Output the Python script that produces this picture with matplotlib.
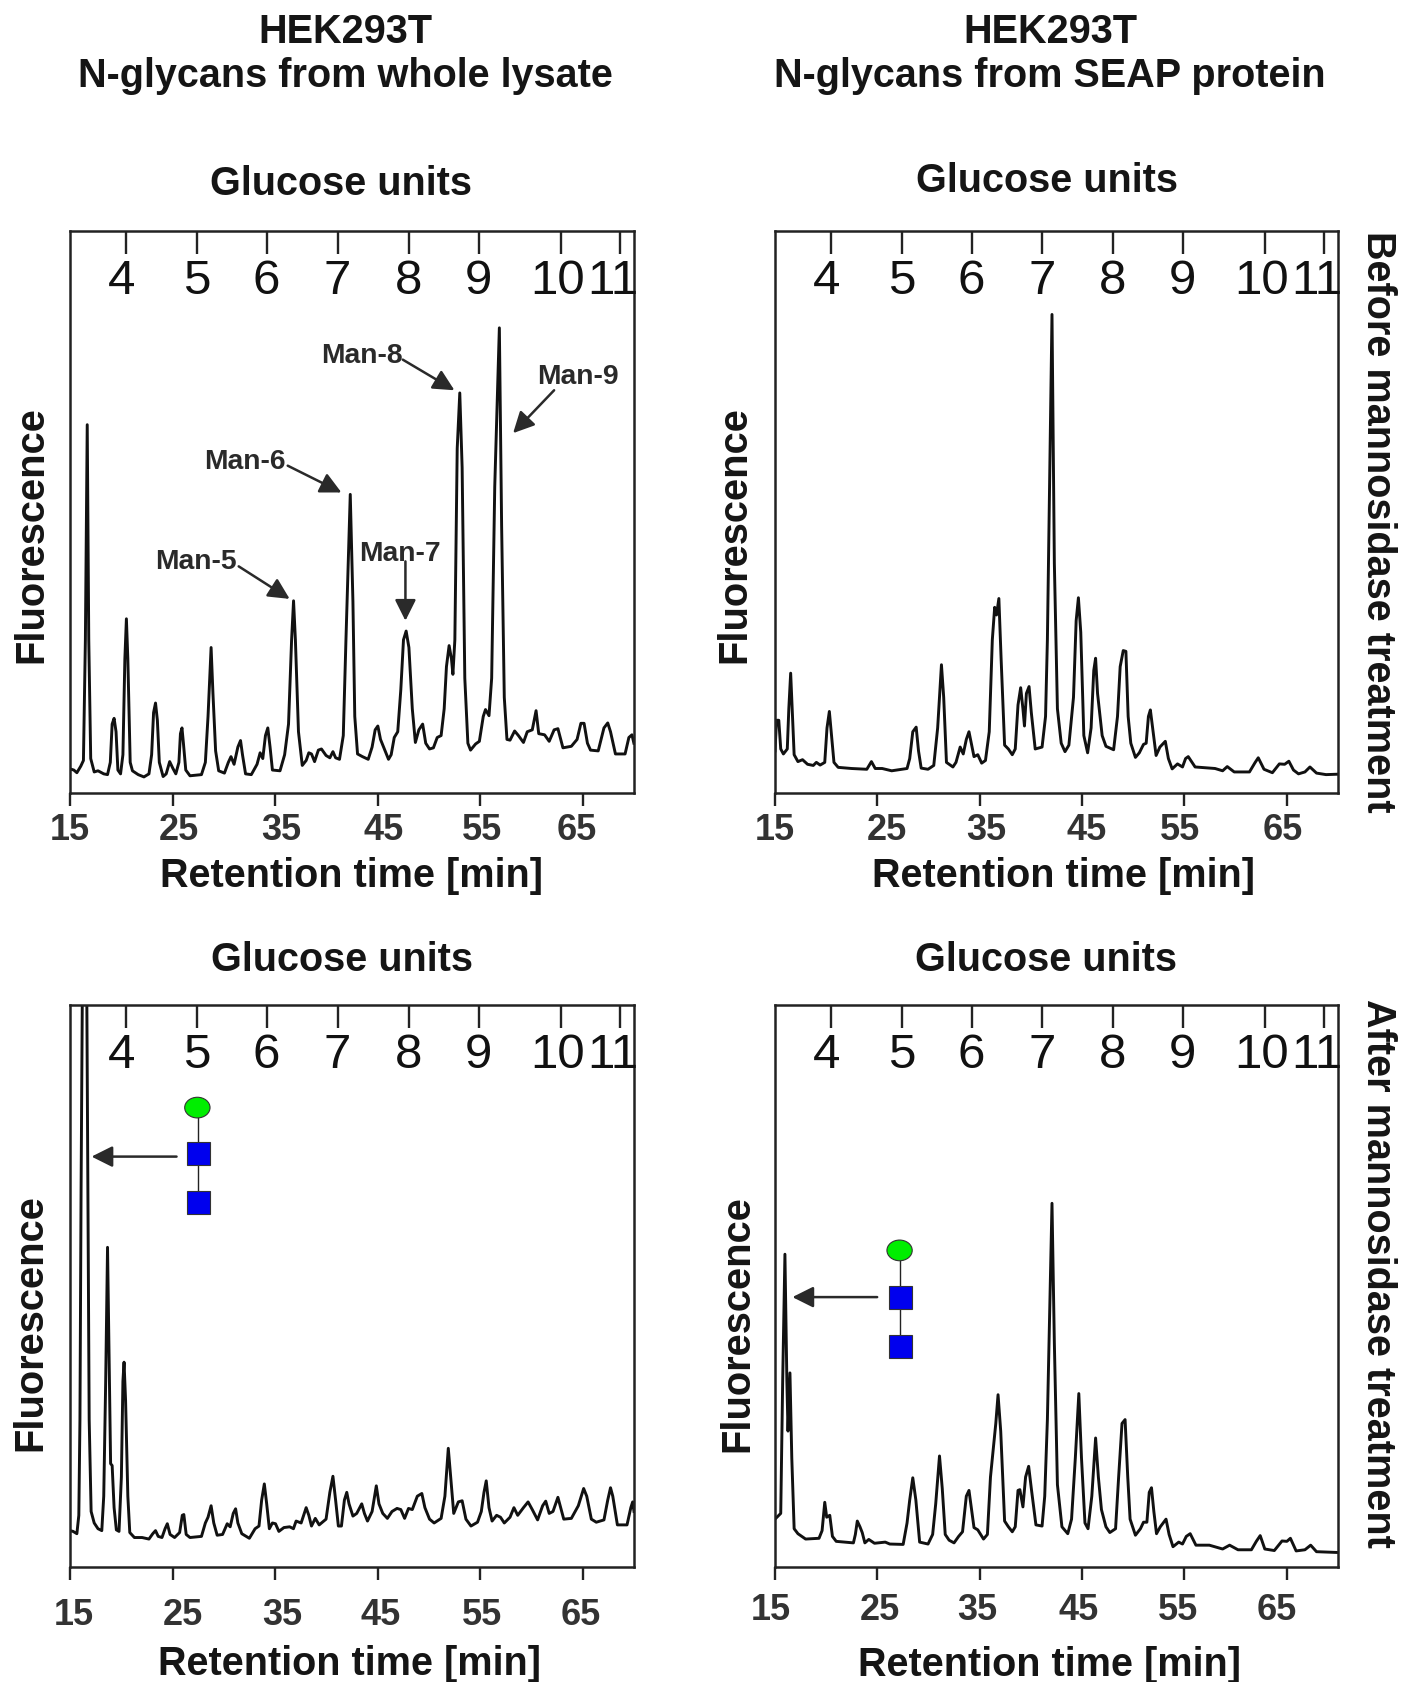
import matplotlib
matplotlib.use("Agg")
import matplotlib.pyplot as plt
from matplotlib.patches import Ellipse, Rectangle

plt.rcParams['font.family'] = ['Liberation Sans', 'DejaVu Sans']

# traces: retention time in min, fluorescence in arbitrary units
rt_a = [15.00,15.37,15.67,16.05,16.31,16.50,16.68,16.83,17.02,17.36,17.73,18.29,18.66,18.93,19.11,19.30,19.49,19.67,19.93,20.16,20.35,20.50,20.64,20.87,21.09,21.65,22.21,22.70,22.96,23.15,23.34,23.52,23.71,24.08,24.38,24.72,25.02,25.32,25.62,25.77,25.92,26.06,26.29,26.70,27.82,28.20,28.46,28.76,28.94,29.20,29.50,30.06,30.44,30.70,31.00,31.37,31.63,31.82,32.12,32.68,33.24,33.54,33.80,34.06,34.29,34.51,34.74,35.48,35.93,36.31,36.61,36.80,36.98,37.28,37.65,38.03,38.29,38.55,38.85,39.22,39.52,39.97,40.34,40.64,40.90,41.28,41.65,41.91,42.33,42.59,42.77,43.04,43.52,44.08,44.46,44.76,45.02,45.28,45.65,46.06,46.32,46.62,46.96,47.26,47.52,47.78,48.05,48.38,48.68,49.02,49.39,49.69,50.06,50.44,50.81,51.19,51.49,51.71,51.97,52.20,52.34,52.53,52.76,53.01,53.24,53.50,53.80,54.06,54.55,54.92,55.30,55.52,55.86,56.12,56.42,56.87,57.09,57.35,57.61,57.91,58.36,58.73,59.22,59.59,60.08,60.45,60.71,61.28,61.73,62.21,62.58,63.07,63.89,64.45,64.82,65.13,65.46,65.76,66.51,67.07,67.44,67.71,68.19,69.13,69.50,69.80,69.99]
sig_a = [63,60,53,70,85,400,962,400,90,55,58,50,48,80,180,195,160,60,50,100,350,455,350,80,58,48,42,50,100,210,235,190,80,43,50,82,65,50,80,155,170,130,60,45,48,80,200,380,260,110,58,52,80,95,75,120,137,100,50,48,75,105,90,150,170,120,60,58,100,180,400,502,400,160,72,85,105,102,82,112,115,98,92,108,92,88,150,400,780,500,200,102,95,88,120,165,175,140,115,88,100,145,160,270,400,423,380,220,132,165,180,130,115,118,145,150,220,330,385,350,310,400,900,1045,850,300,130,112,128,135,200,218,202,300,800,1215,700,250,140,138,162,150,132,160,165,215,155,152,135,165,168,118,122,140,182,182,130,112,110,170,183,160,102,102,145,152,130]

rt_b = [15.00,15.15,15.37,15.56,15.82,16.20,16.35,16.53,16.68,16.87,17.24,17.69,18.18,18.74,19.04,19.41,19.86,20.08,20.31,20.49,20.76,21.17,22.48,23.97,24.42,24.79,25.47,26.40,27.90,28.16,28.46,28.79,29.02,29.28,29.95,30.51,30.89,31.26,31.48,31.75,32.38,32.68,33.09,33.39,33.69,33.95,34.18,34.44,34.81,35.19,35.56,35.93,36.23,36.46,36.64,36.87,37.09,37.43,37.80,38.18,38.47,38.74,39.00,39.22,39.37,39.56,39.82,40.04,40.42,41.09,41.43,41.61,42.06,42.29,42.59,42.96,43.33,43.71,44.16,44.42,44.64,44.87,45.17,45.54,45.88,46.14,46.32,46.51,46.96,47.33,48.08,48.46,48.72,49.02,49.28,49.50,49.76,50.21,50.59,51.00,51.26,51.48,51.67,51.89,52.23,52.60,53.13,53.43,53.80,54.32,54.81,55.11,55.37,56.04,57.05,57.99,58.73,59.18,59.86,61.35,61.91,62.21,62.77,63.59,64.27,64.79,65.20,65.65,66.14,66.77,67.26,67.90,68.83,69.87]
sig_b = [110,190,190,115,102,115,220,313,220,100,82,87,75,72,80,73,80,170,213,160,80,67,64,62,82,64,64,58,64,90,160,172,110,65,62,72,170,335,250,80,68,80,120,102,140,160,130,95,100,78,85,160,400,485,465,508,350,125,115,100,115,230,275,220,175,260,278,210,115,120,200,400,1250,600,220,130,108,125,250,450,510,420,150,105,170,320,352,260,150,122,113,200,330,372,370,200,130,93,105,127,130,200,217,170,98,120,135,90,63,76,68,90,95,68,66,64,58,69,55,55,80,92,62,53,76,75,83,60,50,55,68,52,48,49]

rt_c = [15.00,15.30,15.67,15.86,15.97,16.08,16.20,16.42,16.64,16.76,16.87,17.06,17.36,17.73,18.10,18.29,18.48,18.66,18.85,18.96,19.11,19.30,19.52,19.78,20.01,20.16,20.27,20.42,20.64,20.83,21.28,22.03,22.70,23.07,23.34,23.60,23.97,24.27,24.49,24.76,25.20,25.69,25.95,26.10,26.33,26.70,27.82,28.20,28.46,28.76,29.02,29.35,29.88,30.33,30.62,30.92,31.15,31.37,31.75,32.49,33.05,33.43,33.69,33.95,34.18,34.44,34.74,35.04,35.37,35.86,36.42,36.79,37.05,37.54,38.03,38.29,38.55,38.92,39.30,39.97,40.34,40.64,40.90,41.17,41.47,41.76,41.99,42.21,42.59,42.96,43.45,43.71,44.01,44.46,44.87,45.13,45.50,45.95,46.40,46.89,47.26,47.63,48.01,48.38,48.87,49.31,49.61,50.06,50.51,51.19,51.56,51.89,52.16,52.42,52.87,53.24,53.61,54.10,54.74,55.11,55.37,55.59,55.86,56.16,56.60,56.98,57.35,57.91,58.29,58.66,59.22,59.67,60.08,60.60,61.09,61.39,61.73,62.10,62.58,63.15,63.89,64.57,65.09,65.39,65.84,66.32,67.07,67.44,67.71,67.93,68.38,69.32,69.69,69.87,70.00]
sig_c = [95,93,87,135,385,985,1485,1785,1485,885,385,145,115,100,95,185,485,835,485,270,265,155,97,93,235,485,535,435,185,90,77,77,73,87,95,80,77,100,113,85,77,90,135,137,85,77,80,115,130,160,115,83,85,113,105,140,152,115,87,75,100,107,175,217,165,100,115,113,93,103,105,100,120,115,155,135,107,127,110,125,195,237,175,107,107,175,195,165,133,140,165,140,120,145,212,165,140,127,145,153,150,127,153,150,185,192,155,125,115,127,185,310,225,140,170,173,125,107,117,145,195,225,155,120,135,130,115,130,155,135,155,170,150,123,160,172,140,145,182,125,127,160,205,185,125,117,123,175,207,185,110,110,155,170,145]

rt_d = [15.00,15.19,15.56,15.75,15.97,16.16,16.27,16.46,16.64,16.87,17.24,17.99,19.30,19.60,19.86,20.05,20.35,20.61,20.98,22.66,22.85,23.04,23.30,23.52,23.78,24.16,24.72,25.77,26.21,27.52,27.90,28.16,28.46,28.76,29.13,29.95,30.40,30.70,31.07,31.34,31.63,32.01,32.49,32.94,33.32,33.69,33.95,34.18,34.44,34.81,35.37,35.75,36.05,36.31,36.57,36.79,37.05,37.43,37.80,38.18,38.47,38.74,38.92,39.22,39.48,39.78,40.04,40.49,41.09,41.35,41.61,42.06,42.29,42.59,43.03,43.60,43.97,44.34,44.68,44.94,45.28,45.58,45.95,46.32,46.59,46.89,47.33,47.71,48.27,48.57,48.90,49.20,49.46,49.69,50.21,50.70,51.00,51.33,51.56,51.78,52.01,52.27,52.64,53.20,53.50,53.88,54.44,54.81,55.18,55.56,56.12,57.43,58.73,59.41,60.23,61.54,62.02,62.40,62.85,63.78,64.53,65.01,65.35,65.91,66.77,67.33,67.90,69.87]
sig_d = [125,130,140,485,817,485,355,507,285,100,87,73,75,95,169,130,135,80,67,63,85,120,105,90,63,72,62,65,60,59,115,175,233,175,65,60,85,165,290,205,85,70,63,80,92,185,200,155,103,97,73,85,235,305,375,450,355,120,105,92,105,200,202,157,235,263,205,110,107,185,385,950,585,215,105,87,125,285,453,285,115,100,185,337,235,150,105,90,100,235,375,385,235,125,83,100,117,117,195,207,145,87,105,125,85,53,65,60,80,87,57,57,47,57,45,45,67,82,47,43,68,67,75,42,45,57,40,38]

xticks = [15, 25, 35, 45, 55, 65]
gu_pos = [20.5, 27.38, 34.23, 41.13, 48.03, 54.9, 62.87, 68.66]
gu_labels = ['4', '5', '6', '7', '8', '9', '10', '11']
gu_label_x = [20.0, 27.38, 34.15, 41.1, 48.0, 54.85, 62.55, 67.95]

# hand placed x tick labels in the original figure
xlab_a = [15.0, 25.66, 35.6, 45.6, 55.2, 64.4]
xlab_b = [15.0, 25.9, 35.6, 45.4, 54.6, 64.6]
xlab_c = [15.4, 26.0, 35.7, 45.3, 55.2, 64.8]
xlab_d = [14.6, 25.2, 34.8, 44.7, 54.4, 64.0]

W, H = 1416, 1683
DARK = '#2a2a2a'
fig = plt.figure(figsize=(W / 100, H / 100), dpi=100)


def ftext(x, y, s, size=28.5, rot=0):
    fig.text(x / W, 1 - y / H, s, fontsize=size, fontweight='bold', color='#151515',
             ha='center', va='center', rotation=rot)


def panel(left, top, right, bottom, rt, sig, xlab, xlab_px):
    ax = fig.add_axes([left / W, 1 - bottom / H, (right - left) / W, (bottom - top) / H])
    ax.plot(rt, sig, color='#111111', lw=2.1, solid_joinstyle='round')
    ax.set_xlim(15, 70)
    ax.set_ylim(0, 1468)
    ax.set_yticks([])
    ax.set_xticks(xticks)
    ax.set_xticklabels([])
    ax.tick_params(axis='x', direction='out', length=9, width=1.7, color='#222222')
    for sp in ax.spines.values():
        sp.set_linewidth(1.8)
        sp.set_color('#222222')
    top_ax = ax.secondary_xaxis('top')
    top_ax.set_xticks(gu_pos)
    top_ax.set_xticklabels([])
    top_ax.tick_params(axis='x', direction='in', length=16.5, width=1.7, color='#222222')
    top_ax.spines['top'].set_visible(False)
    for x, lab in zip(gu_label_x, gu_labels):
        ax.text(x, 1340, lab, fontsize=35.5, color='#111111', ha='center', va='center')
    for x, t in zip(xlab, xticks):
        fig.text((left + (x - 15) * (right - left) / 55) / W, 1 - xlab_px / H, str(t), fontsize=26,
                 fontweight='bold', color='#333333', ha='center', va='center')
    return ax


def glycan(ax, t, s_top, s_mid, s_bot):
    ax.plot([t, t], [s_top, s_bot], color='#222222', lw=1.0, zorder=3)
    ax.add_patch(Ellipse((t - 0.08, s_top), 2.47, 54, fc='#00ee00', ec='#333333', lw=0.8, zorder=4))
    for s in [s_mid, s_bot]:
        ax.add_patch(Rectangle((t - 1.12, s - 30), 2.24, 60, fc='#0000ee', ec='#333333', lw=0.8, zorder=4))


def arrow(ax, start, end):
    ax.annotate('', xy=end, xytext=start,
                arrowprops=dict(arrowstyle='-|>', color=DARK, lw=1.8, mutation_scale=32,
                                shrinkA=0, shrinkB=0))


ax_a = panel(70, 232, 634, 794, rt_a, sig_a, xlab_a, 831)
ax_b = panel(775, 232, 1338, 794, rt_b, sig_b, xlab_b, 831)
ax_c = panel(70, 1006, 634, 1568, rt_c, sig_c, xlab_c, 1616)
ax_d = panel(775, 1006, 1338, 1568, rt_d, sig_d, xlab_d, 1611)

man_labels = ['Man-5', 'Man-6', 'Man-7', 'Man-8', 'Man-9']
man_text = [(27.25, 606), (32.05, 866), (47.2, 628), (43.45, 1144), (64.5, 1089)]
man_start = [(31.45, 592), (36.23, 855), (47.71, 605), (47.45, 1132), (62.21, 1052)]
man_end = [(36.42, 507), (41.47, 785), (47.71, 450), (52.49, 1052), (58.21, 940)]
for lab, p, a, b in zip(man_labels, man_text, man_start, man_end):
    ax_a.text(p[0], p[1], lab, fontsize=20.3, fontweight='bold', color=DARK, ha='center', va='center')
    arrow(ax_a, a, b)

glycan(ax_c, 27.5, 1200, 1079, 951)
arrow(ax_c, (25.39, 1072), (17.1, 1072))
glycan(ax_d, 27.25, 827, 705, 577)
arrow(ax_d, (24.98, 705), (16.7, 705))

ftext(345, 32, 'HEK293T')
ftext(345, 76, 'N-glycans from whole lysate')
ftext(1050, 32, 'HEK293T')
ftext(1050, 76, 'N-glycans from SEAP protein')

ftext(341, 184, 'Glucose units')
ftext(1047, 181, 'Glucose units')
ftext(342, 960, 'Glucose units')
ftext(1046, 960, 'Glucose units')

ftext(351, 876, 'Retention time [min]')
ftext(1063, 876, 'Retention time [min]')
ftext(350, 1664, 'Retention time [min]')
ftext(1050, 1665, 'Retention time [min]')

ftext(31, 535, 'Fluorescence', 28.7, 90)
ftext(734, 535, 'Fluorescence', 28.7, 90)
ftext(30, 1323, 'Fluorescence', 28.7, 90)
ftext(737, 1324, 'Fluorescence', 28.7, 90)

ftext(1378, 522, 'Before mannosidase treatment', 28.5, 270)
ftext(1378, 1273, 'After mannosidase treatment', 28.5, 270)

fig.savefig('out.png', dpi=100)
